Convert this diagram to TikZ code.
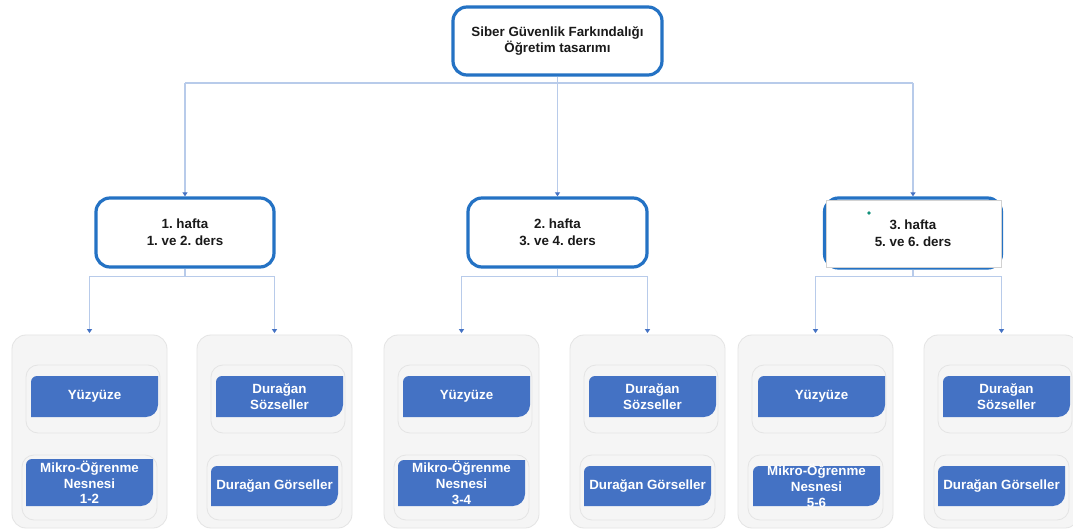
\documentclass[tikz,border=0pt]{standalone}
\usepackage{fontspec}
\setmainfont{Liberation Sans}
\usetikzlibrary{arrows.meta}
\frenchspacing

\definecolor{weekblue}{HTML}{2472C4}
\definecolor{linkblue}{HTML}{B8CBEA}
\definecolor{tipblue}{HTML}{4472C4}
\definecolor{tileblue}{HTML}{4472C4}
\definecolor{panelfill}{HTML}{F5F5F5}
\definecolor{panelline}{HTML}{E4E4E4}
\definecolor{inkdark}{HTML}{1A1A1A}
\definecolor{dotgreen}{HTML}{12907A}

% blue tile: square bottom-left/top-right corners, rounded top-left and bottom-right
% #1 name, #2 x1, #3 y1, #4 x2, #5 y2, #6 text
\newcommand\blocktile[6]{%
  \fill[tileblue] (#2,#5) -- (#2,#3+6)
    .. controls (#2,#3+2.7) and (#2+2.7,#3) .. (#2+6,#3)
    -- (#4,#3) -- (#4,#5-12)
    .. controls (#4,#5-5.4) and (#4-5.4,#5) .. (#4-12,#5) -- cycle;
  \node[tiletext] (#1) at ({(#2+#4)/2},{(#3+#5)/2}) {#6};%
}

\begin{document}
\begin{tikzpicture}[x=1bp,y=-1bp,
  lbl/.style={font=\fontsize{13.4}{16.8}\selectfont\bfseries, align=center},
  headbox/.style={lbl, draw=weekblue, line width=3.2bp, rounded corners=14bp,
    fill=white, text=inkdark, inner sep=0pt},
  panel/.style={draw=panelline, line width=0.8bp, fill=panelfill,
    rounded corners=14bp, minimum width=155bp, minimum height=193bp, inner sep=0pt},
  subpanel/.style={draw=panelline, line width=0.8bp, fill=panelfill,
    rounded corners=12bp, inner sep=0pt},
  tiletext/.style={font=\fontsize{13.4}{15.8}\selectfont\bfseries, align=center,
    text=white, inner sep=0pt},
  link/.style={draw=linkblue, line width=1.7bp},
  linkarrow/.style={link, -{Triangle[width=5bp,length=4bp,color=tipblue]}},
]
\useasboundingbox (0,0) rectangle (1073,530);
\clip (0,0) rectangle (1073,530);
\fill[white] (0,0) rectangle (1073,530);

% title box
\node[headbox, minimum width=209bp, minimum height=68bp] (top) at (557.5,41)
  {Siber Güvenlik Farkındalığı\\Öğretim tasarımı};

% week boxes
\node[headbox, minimum width=178bp, minimum height=69bp] (w1) at (185,232.5)
  {1. hafta\\1. ve 2. ders};
\node[headbox, minimum width=179bp, minimum height=69bp] (w2) at (557.5,232.5)
  {2. hafta\\3. ve 4. ders};
\node[headbox, minimum width=177bp, minimum height=70bp] (w3) at (913,233) {};
% selection frame laid over the third week box
\fill[white, draw=gray!35, line width=0.5bp] (826.5,200) rectangle (1001,267);
\node[lbl, text=inkdark] (w3text) at (w3.center) {3. hafta\\5. ve 6. ders};
\fill[dotgreen] (869,213) circle (1.8);

% connectors from the title box
\coordinate (bar) at (0,83);
\draw[link] (top.south) -- (top.south |- bar);
\draw[link] (w1.north |- bar) -- (w3.north |- bar);
\draw[linkarrow] (w1.north |- bar) -- (w1.north);
\draw[linkarrow] (w2.north |- bar) -- (w2.north);
\draw[linkarrow] (w3.north |- bar) -- (w3.north);

% panels with their inner frames
\foreach \L/\n in {12/1,197/2,384/3,570/4,738/5,924/6}{
  \node[panel] (p\n) at (\L+77.5,431.5) {};
  \node[subpanel, minimum width=134bp, minimum height=68bp] (p\n a) at (\L+81,399) {};
  \node[subpanel, minimum width=135bp, minimum height=65bp] (p\n b) at (\L+77.5,487.5) {};
}

% connectors from the week boxes to the panels
\coordinate (lowbar) at (0,276.5);
\foreach \w/\a/\b in {w1/p1/p2,w2/p3/p4,w3/p5/p6}{
  \draw[link] (\w.south) -- (\w.south |- lowbar);
  \draw[link] (\a.north |- lowbar) -- (\b.north |- lowbar);
  \draw[linkarrow, shorten >=1.5bp] (\a.north |- lowbar) -- (\a.north);
  \draw[linkarrow, shorten >=1.5bp] (\b.north |- lowbar) -- (\b.north);
}

% week 1
\blocktile{t1a}{31}{376}{158}{417}{Yüzyüze}
\blocktile{t1b}{26}{459}{153}{506}{Mikro-Öğrenme\\Nesnesi\\1-2}
\blocktile{t2a}{216}{376}{343}{417}{Durağan\\Sözseller}
\blocktile{t2b}{211}{466}{338}{506}{Durağan Görseller}
% week 2
\blocktile{t3a}{403}{376}{530}{417}{Yüzyüze}
\blocktile{t3b}{398}{460}{525}{506}{Mikro-Öğrenme\\Nesnesi\\3-4}
\blocktile{t4a}{589}{376}{716}{417}{Durağan\\Sözseller}
\blocktile{t4b}{584}{466}{711}{506}{Durağan Görseller}
% week 3
\blocktile{t5a}{758}{376}{885}{417}{Yüzyüze}
\blocktile{t5b}{753}{466}{880}{506}{Mikro-Öğrenme\\Nesnesi\\5-6}
\blocktile{t6a}{943}{376}{1070}{417}{Durağan\\Sözseller}
\blocktile{t6b}{938}{466}{1065}{506}{Durağan Görseller}
\end{tikzpicture}
\end{document}
